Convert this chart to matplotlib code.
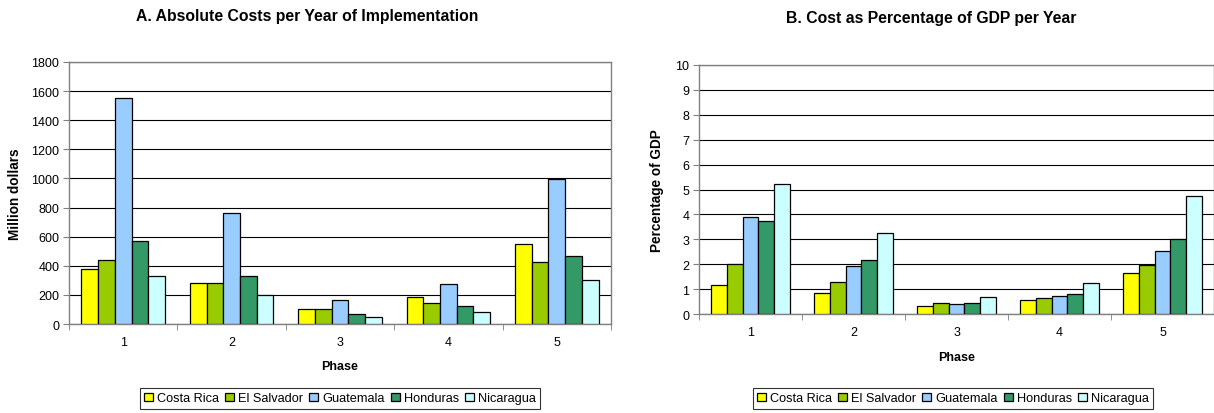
import matplotlib
matplotlib.use("Agg")
import matplotlib.pyplot as plt
import numpy as np
from matplotlib.ticker import MultipleLocator, FixedLocator

plt.rcParams['font.family'] = ['Liberation Sans', 'DejaVu Sans']

phases = ["1", "2", "3", "4", "5"]
countries = ["Costa Rica", "El Salvador", "Guatemala", "Honduras", "Nicaragua"]
colors = ["#FFFF00", "#99CC00", "#99CCFF", "#339966", "#CCFFFF"]

abs_costa = [377, 284, 100, 188, 547]
abs_salv = [441, 284, 100, 144, 428]
abs_guat = [1551, 760, 165, 272, 995]
abs_hond = [567, 327, 66, 124, 465]
abs_nica = [327, 201, 46, 80, 302]

gdp_costa = [1.15, 0.84, 0.31, 0.55, 1.63]
gdp_salv = [2.02, 1.28, 0.45, 0.65, 1.98]
gdp_guat = [3.89, 1.92, 0.40, 0.71, 2.52]
gdp_hond = [3.75, 2.18, 0.45, 0.80, 3.02]
gdp_nica = [5.22, 3.27, 0.69, 1.24, 4.75]

W, H = 1214, 414
fig = plt.figure(figsize=(W / 100, H / 100), dpi=100)

def px_axes(l, t, r, b):
    return fig.add_axes([l / W, 1 - b / H, (r - l) / W, (b - t) / H])

def draw(ax, series, ymax, ystep, title, ylabel, title_xy, phase_xy, ylab_x, legend_cx):
    x = np.arange(1, 6)
    bw = 0.154
    for i, (vals, c) in enumerate(zip(series, colors)):
        ax.bar(x + (i - 2) * bw, vals, width=bw, color=c, edgecolor="black",
               linewidth=0.9, label=countries[i], zorder=3)
    ax.set_xlim(0.5, 5.5)
    ax.set_ylim(0, ymax)
    ax.yaxis.set_major_locator(MultipleLocator(ystep))
    ax.grid(axis="y", color="black", linewidth=0.8, zorder=0)
    ax.set_axisbelow(True)
    ax.set_xticks(x)
    ax.set_xticklabels(phases)
    ax.xaxis.set_minor_locator(FixedLocator(np.arange(0.5, 6.0, 1.0)))
    ax.tick_params(axis="x", which="major", length=0, labelsize=9, pad=9)
    ax.tick_params(axis="x", which="minor", length=4, color="#808080", direction="out")
    ax.tick_params(axis="y", length=4, color="#808080", labelsize=9, pad=3)
    for s in ["left", "bottom", "right", "top"]:
        ax.spines[s].set_color("#808080")
        ax.spines[s].set_linewidth(1.0)
    fig.text(title_xy[0] / W, 1 - title_xy[1] / H, title, ha="center", va="center",
             fontsize=11.3, fontweight="bold")
    fig.text(phase_xy[0] / W, 1 - phase_xy[1] / H, "Phase", ha="center", va="center",
             fontsize=9, fontweight="bold")
    pos = ax.get_position()
    fig.text(ylab_x / W, (pos.y0 + pos.y1) / 2, ylabel, rotation=90, ha="center",
             va="center", fontsize=9.8, fontweight="bold")
    leg = fig.legend(*ax.get_legend_handles_labels(), loc="upper center",
                     bbox_to_anchor=(legend_cx / W, 1 - 389 / H), ncol=5,
                     fontsize=9.2, frameon=True, fancybox=False, edgecolor="black",
                     handlelength=0.7, handleheight=0.7, handletextpad=0.3,
                     columnspacing=0.5, borderpad=0.35, borderaxespad=0)
    leg.get_frame().set_linewidth(0.8)

axA = px_axes(69, 63, 611, 325)
draw(axA, [abs_costa, abs_salv, abs_guat, abs_hond, abs_nica], 1800, 200,
     "A. Absolute Costs per Year of Implementation", "Million dollars",
     (307, 17), (340, 367), 15, 340)

axB = px_axes(699, 66, 1214, 315)
draw(axB, [gdp_costa, gdp_salv, gdp_guat, gdp_hond, gdp_nica], 10, 1,
     "B. Cost as Percentage of GDP per Year", "Percentage of GDP",
     (931, 18), (957, 358), 657, 953)

fig.savefig("out.png", dpi=100)
